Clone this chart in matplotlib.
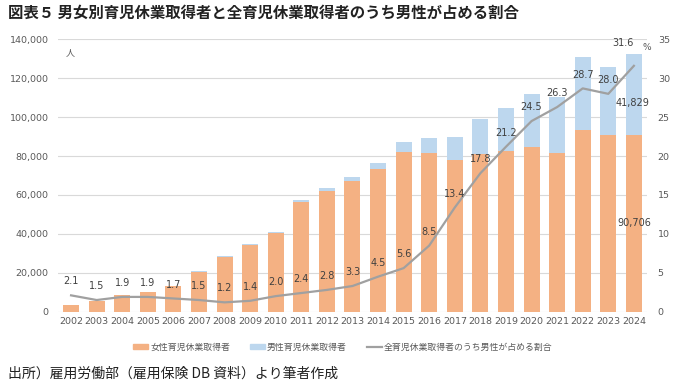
import numpy as np
import matplotlib.pyplot as plt

plt.rcParams['font.family'] = ['DejaVu Sans', 'Noto Sans CJK JP']
JP = ['Noto Sans CJK JP', 'DejaVu Sans']

# データ
years = [str(y) for y in range(2002, 2025)]
female = [3440, 5560, 8420, 10090, 12970, 20580, 28250, 34320, 40270, 56170, 61890, 67000, 73200,
          82200, 81700, 77900, 81300, 82500, 84500, 81400, 93400, 90650, 90706]
male = [74, 85, 160, 195, 225, 315, 345, 490, 820, 1380, 1780, 2290, 3450,
        4880, 7600, 12060, 17600, 22200, 27400, 29000, 37600, 35250, 41829]
ratio = [2.1, 1.5, 1.9, 1.9, 1.7, 1.5, 1.2, 1.4, 2.0, 2.4, 2.8, 3.3, 4.5,
         5.6, 8.5, 13.4, 17.8, 21.2, 24.5, 26.3, 28.7, 28.0, 31.6]

c_f = '#F4B183'
c_m = '#BDD7EE'
c_line = '#A0A0A0'
c_txt = '#404040'
c_tick = '#595959'

fig = plt.figure(figsize=(6.8, 3.86), dpi=100)
ax = fig.add_axes([0.0857, 0.1925, 0.8653, 0.7055])
x = np.arange(len(years))

ax.bar(x, female, width=0.625, color=c_f, zorder=2)
ax.bar(x, male, width=0.625, bottom=female, color=c_m, zorder=2)
ax.set_xlim(-0.5, len(years) - 0.5)
ax.set_ylim(0, 140000)
ax.set_yticks(range(0, 140001, 20000))
ax.set_yticklabels([f'{v:,}' for v in range(0, 140001, 20000)])
ax.set_xticks(x)
ax.set_xticklabels(years)
ax.grid(axis='y', color='#D9D9D9', lw=0.8, zorder=0)
ax.tick_params(length=0, labelsize=6.8, colors=c_tick, pad=4)
ax.tick_params(axis='y', pad=7)
for s in ax.spines.values():
    s.set_visible(False)

ax2 = ax.twinx()
ax2.plot(x, ratio, color=c_line, lw=1.6, zorder=3)
ax2.set_ylim(0, 35)
ax2.set_yticks(range(0, 36, 5))
ax2.tick_params(length=0, labelsize=6.8, colors=c_tick, pad=8)
for s in ax2.spines.values():
    s.set_visible(False)

for i, r in enumerate(ratio):
    off = (0, 10) if i < len(ratio) - 1 else (-8, 16.5)
    ax2.annotate(f'{r:.1f}', (x[i], r), xytext=off, textcoords='offset points',
                 ha='center', va='center', fontsize=7, color=c_txt)

# 2024年の人数ラベル
ax.annotate(f'{male[-1]:,}', (x[-1], female[-1] + male[-1] / 2), xytext=(-1, -6),
            textcoords='offset points', ha='center', va='center', fontsize=7, color=c_txt, zorder=5)
ax.annotate(f'{female[-1]:,}', (x[-1], female[-1] / 2), xytext=(0, 0),
            textcoords='offset points', ha='center', va='center', fontsize=7, color=c_txt, zorder=5)

fig.text(0.103, 0.865, '人', fontsize=6.5, color=c_tick, family=JP, ha='center', va='center')
fig.text(0.951, 0.876, '%', fontsize=6.5, color=c_tick, ha='center', va='center')

fig.text(0.012, 0.966, '図表５ 男女別育児休業取得者と全育児休業取得者のうち男性が占める割合',
         fontsize=11.1, fontweight='bold', family=JP, va='center', ha='left', color='#222222')
fig.text(0.012, 0.031, '出所）雇用労働部（雇用保険 DB 資料）より筆者作成',
         fontsize=10, family=JP, va='center', ha='left', color='#222222')

# 凡例
h1 = plt.Rectangle((0, 0), 1, 1, color=c_f)
h2 = plt.Rectangle((0, 0), 1, 1, color=c_m)
h3, = ax.plot([], [], color=c_line, lw=1.6)
leg = fig.legend([h1, h2, h3], ['女性育児休業取得者', '男性育児休業取得者', '全育児休業取得者のうち男性が占める割合'],
                 loc='center', bbox_to_anchor=(0.504, 0.1), ncol=3, frameon=False,
                 prop={'family': JP, 'size': 6.4}, handlelength=1.7, handleheight=0.45,
                 handletextpad=0.25, columnspacing=2.2, labelcolor=c_tick)

fig.savefig('out.png', dpi=100)
